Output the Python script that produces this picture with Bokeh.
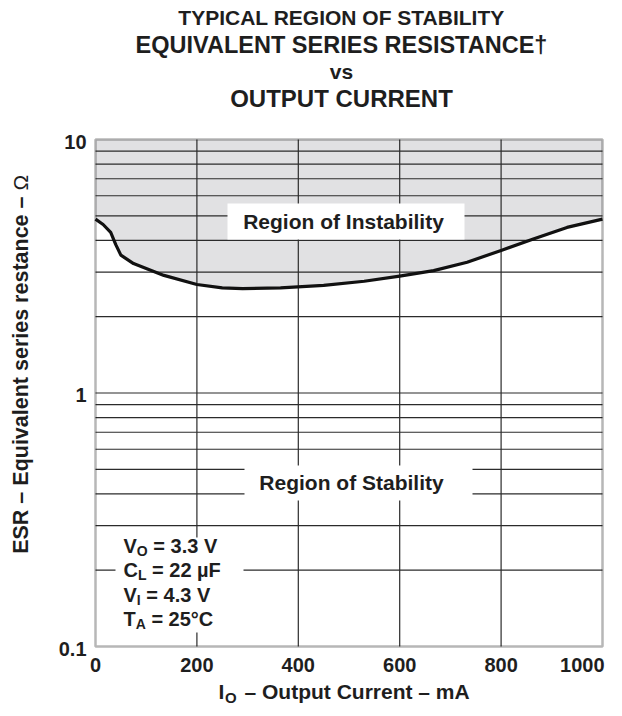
import math
from bokeh.plotting import figure
from bokeh.models import Range1d, Label, BoxAnnotation
from bokeh.embed import file_html
from bokeh.resources import INLINE

# ---------------- data ----------------
current_ma = [0, 15, 30, 40, 50, 75, 135, 200, 250, 290, 365, 450, 530, 600, 667, 733, 800, 865, 930, 1000]
esr_ohm = [4.85, 4.62, 4.3, 3.85, 3.5, 3.24, 2.91, 2.68, 2.6, 2.58, 2.6, 2.66, 2.76, 2.89, 3.04, 3.28, 3.65, 4.06, 4.5, 4.85]
esr_upper = [10] * len(current_ma)

x_min, x_max = 0, 1000
y_min, y_max = 0.1, 10
x_ticks = [0, 200, 400, 600, 800, 1000]
x_tick_labels = ["0", "200", "400", "600", "800", "1000"]
y_ticks = [0.1, 1, 10]
y_tick_labels = ["0.1", "1", "10"]
x_grid = [200, 400, 600, 800]
y_grid = [0.2, 0.3, 0.4, 0.5, 0.6, 0.7, 0.8, 0.9, 1, 2, 3, 4, 5, 6, 7, 8, 9]

title_lines = ["TYPICAL REGION OF STABILITY", "EQUIVALENT SERIES RESISTANCE\u2020", "vs", "OUTPUT CURRENT"]
conditions = [("V", "O", "= 3.3 V"), ("C", "L", "= 22 \u00b5F"), ("V", "I", "= 4.3 V"), ("T", "A", "= 25\u00b0C")]

FONT = "Liberation Sans"
INK = "#1e1e1e"

# ---------------- layout helpers (page pixel -> data) ----------------
W, H = 618, 714
FX0, FY0, FW, FH = 95, 139, 507, 507
def dx(px):
    return x_min + (px - FX0) / FW * (x_max - x_min)
def dy(py):
    return 10 ** (math.log10(y_max) - (py - FY0) / FH * (math.log10(y_max) - math.log10(y_min)))

p = figure(frame_width=W, frame_height=H,
           x_range=Range1d(dx(0), dx(W)), y_range=Range1d(dy(H), dy(0)), y_axis_type="log",
           output_backend="svg", toolbar_location=None,
           min_border_left=0, min_border_right=0, min_border_top=0, min_border_bottom=0)
p.title.visible = False
p.xaxis.visible = False
p.yaxis.visible = False
p.grid.visible = False
p.outline_line_color = None
p.background_fill_color = "white"
p.border_fill_color = "white"

# shaded instability region
p.varea(x=current_ma, y1=esr_ohm, y2=esr_upper, fill_color="#e1e1e3", fill_alpha=1.0)

# grid lines of the chart area
GRID = "#2b2b2b"
p.segment(x0=x_grid, x1=x_grid, y0=[y_min] * len(x_grid), y1=[y_max] * len(x_grid),
          line_color=GRID, line_width=1.2)
p.segment(x0=[x_min] * len(y_grid), x1=[x_max] * len(y_grid), y0=y_grid, y1=y_grid,
          line_color=GRID, line_width=1.2)

# boundary curve
p.line(current_ma, esr_ohm, line_width=3.2, line_color="#111111", line_join="round")

def lab(x, y, text, size, align="center", style="bold", angle=0.0, baseline="middle", yoff=0):
    p.add_layout(Label(x=x, y=y, text=text, text_font=FONT, text_font_style=style,
                       text_font_size=f"{size}px", text_color=INK, text_align=align,
                       text_baseline=baseline, angle=angle, y_offset=yoff))

def box(l, r, t, b):
    p.add_layout(BoxAnnotation(left=dx(l), right=dx(r), top=dy(t), bottom=dy(b),
                               fill_color="white", fill_alpha=1.0, line_color=None))

# region labels with white boxes
box(227, 464, 203, 239)
lab(dx(343), dy(221), "Region of Instability", 21)
box(244, 472, 465, 500)
lab(dx(351), dy(482), "Region of Stability", 21)

# condition block
box(115, 243, 537, 632)
AW = {"V": 0.667, "C": 0.722, "T": 0.611, "I": 0.278, "O": 0.778, "L": 0.611, "A": 0.722}
MAIN, SUB = 20, 14
for i, (m, s, rest) in enumerate(conditions):
    yc = 545 + i * 24.5
    x0 = 123
    lab(dx(x0), dy(yc), m, MAIN, align="left")
    xs = x0 + AW[m] * MAIN
    lab(dx(xs), dy(yc + 5), s, SUB, align="left")
    xr = xs + AW[s] * SUB + 0.278 * MAIN
    lab(dx(xr), dy(yc), rest, MAIN, align="left")

# chart frame
p.add_layout(BoxAnnotation(left=x_min, right=x_max, bottom=y_min, top=y_max,
                           fill_alpha=0, line_color="#111111", line_width=2.5))

# tick labels
for v, t in zip(x_ticks, x_tick_labels):
    if v == x_ticks[-1]:
        lab(dx(604), dy(664), t, 20, align="right")
    else:
        lab(v, dy(664), t, 20)
for v, t in zip(y_ticks, y_tick_labels):
    lab(dx(86), v, t, 20, align="right", yoff=-2)

# x axis label with subscript
lab(dx(218), dy(691), "I", 21, align="left")
lab(dx(224.5), dy(697), "O", 15, align="left")
lab(dx(244), dy(691), "\u2013 Output Current \u2013 mA", 21, align="left")

# y axis label (rotated)
lab(dx(20), dy(196), "ESR \u2013 Equivalent series restance \u2013", 21.5, align="right", angle=math.pi / 2)
lab(dx(20), dy(190), "\u03a9", 21, align="left", style="normal", angle=math.pi / 2)

# title lines
title_sizes = [21, 23.5, 21, 24]
title_y = [17, 44, 71, 98]
for t, s, yy in zip(title_lines, title_sizes, title_y):
    lab(dx(341), dy(yy), t, s)

open("out.html", "w").write(file_html(p, INLINE))
